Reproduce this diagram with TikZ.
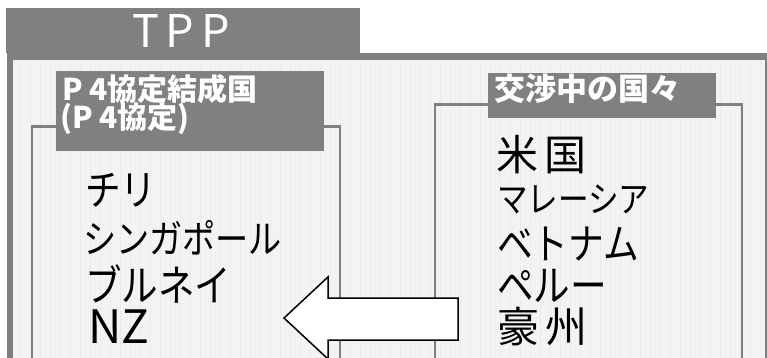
\documentclass[tikz,border=0pt]{standalone}
\usepackage{fontspec}
\setmainfont{Noto Sans CJK JP}
\newfontfamily\narrowjp{Noto Sans CJK JP}[FakeStretch=0.85]
\usetikzlibrary{calc}
\definecolor{tabgray}{HTML}{808080}
\definecolor{paper}{HTML}{F3F3F3}
\definecolor{faint}{HTML}{EBEBEB}
\newcommand{\fsz}[1]{\fontsize{#1}{#1}\selectfont}
\tikzset{tag/.style={fill=tabgray, inner sep=0pt, anchor=north west},tagtext/.style={text=white, font=\bfseries, inner sep=0pt, anchor=west},boxline/.style={draw=tabgray, line width=2.5pt},item/.style={inner sep=0pt, anchor=west}}
\tikzset{fatarrow/.style={draw=black, fill=white, line width=1.5pt, line join=miter}}

\begin{document}
\begin{tikzpicture}[x=1pt,y=-1pt]
  \useasboundingbox (0,0) rectangle (767,358);
  \clip (0,0) rectangle (767,358);
  % sheet
  \fill[paper] (10,56) rectangle (768,380);
  \draw[faint, line width=0.5pt, step=10] (13,60) grid (767,358);
  \draw[tabgray, line width=6.5pt] (10,56.5) rectangle (768,380);
  \node[tag, minimum width=354pt, minimum height=45pt] (tpp) at (6,8) {};
  \node[inner sep=0pt, text=white, font=\fsz{45}] (tpptext) at (181,31) {T\hspace{7pt}P\hspace{7pt}P};
  % groups
  \draw[boxline] (32,380) -- (32,126.5) -- (340,126.5) -- (340,380);
  \draw[boxline] (435,380) -- (435,104.5) -- (742,104.5) -- (742,380);
  \node[tag, minimum width=268pt, minimum height=80pt] (p4tag) at (56,71) {};
  \node[tag, minimum width=228pt, minimum height=45pt] (nego) at (488,73) {};
  \node[tagtext, font=\bfseries\fsz{30}] (p4a) at (62,89) {P 4協定結成国};
  \node[tagtext, font=\bfseries\fsz{30}] (p4b) at (60,119) {(P 4協定)};
  \node[tagtext, font=\bfseries\fsz{31}] (negotext) at (494,89) {交渉中の国々};
  % members
  \node[item, font=\narrowjp\fsz{42}] (chile) at (85,190) {チリ};
  \node[item, font=\narrowjp\fsz{39}] (sing) at (83,238) {シンガポール};
  \node[item, font=\narrowjp\fsz{43}] (brunei) at (85,284) {ブルネイ};
  \node[item, font=\fsz{46}] (nz) at (88,327) {NZ};
  % negotiating
  \node[item, font=\fsz{42}] (us) at (496,155) {米\hspace{6pt}国};
  \node[item, font=\narrowjp\fsz{36}] (mal) at (497,199) {マレーシア};
  \node[item, font=\narrowjp\fsz{42}] (viet) at (497,244) {ベトナム};
  \node[item, font=\narrowjp\fsz{43}] (peru) at (497,286) {ペルー};
  \node[item, font=\fsz{42}] (aus) at (497,327) {豪\hspace{6pt}州};
  % joining arrow
  \draw[fatarrow] (284,318) -- (328,277) -- (328,298) -- (458,298) -- (458,340) -- (328,340) -- (328,359) -- cycle;
\end{tikzpicture}
\end{document}
